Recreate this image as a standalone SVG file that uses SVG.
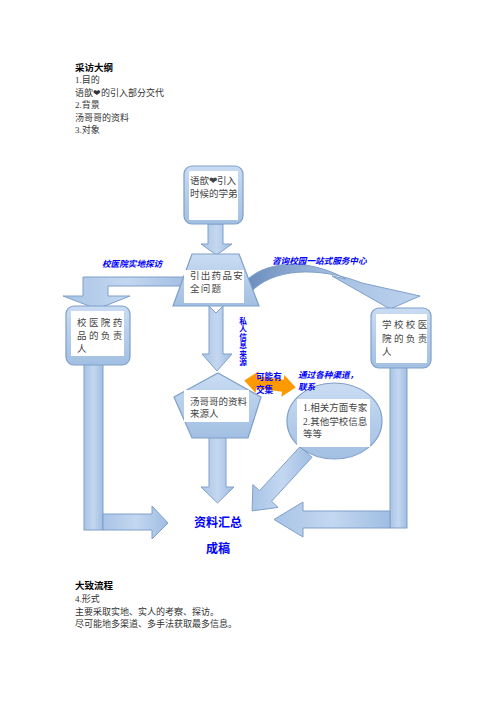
<svg xmlns="http://www.w3.org/2000/svg" width="496" height="702" viewBox="0 0 496 702">
<style>
.t{font-family:"Liberation Serif","Noto Sans CJK SC",serif;font-size:9px;fill:#333}
.h{font-family:"Liberation Serif","Noto Sans CJK SC",serif;font-size:9.5px;font-weight:bold;fill:#000}
.nt{font-family:"Liberation Serif","Noto Sans CJK SC",serif;font-size:9.5px;fill:#444}
.sp{letter-spacing:2.4px}
.lb{font-family:"Liberation Serif","Noto Sans CJK SC",serif;font-size:8.6px;font-weight:bold;font-style:italic;fill:#0000ff}
.lbv{font-family:"Liberation Serif","Noto Sans CJK SC",serif;font-size:8.6px;font-weight:bold;fill:#0000ff}
.vert{font-family:"Liberation Serif","Noto Sans CJK SC",serif;font-size:7.6px;font-weight:bold;fill:#0000ff}
.big{font-family:"Liberation Serif","Noto Sans CJK SC",serif;font-size:12px;font-weight:bold;fill:#0000ff}
.arr{fill:url(#ga);stroke:#7f9fca;stroke-width:1}
.frame{fill:url(#gb);stroke:#7f9fca;stroke-width:1.2}
.inner{fill:#fff}
</style>
<defs>
<linearGradient id="ga" x1="0" y1="0" x2="1" y2="0">
<stop offset="0" stop-color="#a9c4e6"/>
<stop offset="0.5" stop-color="#c3d7f0"/>
<stop offset="1" stop-color="#a0bde2"/>
</linearGradient>
<linearGradient id="gb" x1="0" y1="0" x2="0" y2="1">
<stop offset="0" stop-color="#c9dcf2"/>
<stop offset="1" stop-color="#a2bfe2"/>
</linearGradient>
<linearGradient id="gc" x1="0" y1="0" x2="1" y2="0">
<stop offset="0" stop-color="#6a8cbc"/>
<stop offset="0.55" stop-color="#a9c3e4"/>
<stop offset="1" stop-color="#bcd2ee"/>
</linearGradient>
</defs>

<g id="header-text">
<text class="h" x="75" y="70.5">采访大纲</text>
<text class="t" x="75" y="83">1.目的</text>
<text class="t" x="75" y="95.5">语歆❤的引入部分交代</text>
<text class="t" x="75" y="108">2.背景</text>
<text class="t" x="75" y="120.5">汤哥哥的资料</text>
<text class="t" x="75" y="133">3.对象</text>
</g>

<g id="connectors">
<path class="arr" d="M208,224 H223 V244 H232 L216.5,255 L201,244 H208 Z"/>
<path class="arr" d="M190,277 H83 V296 H63 L97,309 L130,296 H108 V286 H190 Z"/>
<path d="M244,283 C262,262 305,256 346,279 L332,276 L390,309 L420,296 L362,283 C318,266 272,268 250,293 Z" fill="url(#gc)" stroke="#7f9fca" stroke-width="1"/>
<path class="arr" d="M209,306 L216,313 L223,306 V354 H232 L217,371 L202,354 H209 Z"/>
<path class="arr" d="M209,436 H226 V487 H234 L217.5,503 L201,487 H209 Z"/>
<path class="arr" d="M300,446.7 L312,457.3 L271.5,501.3 L278.1,507.4 L252.1,510.9 L252.9,484.6 L259.5,490.7 Z"/>
<rect class="arr" x="84" y="362" width="19" height="168"/>
<path class="arr" d="M103,514 H152 V506 L168,523 L152,539 V530 H103 Z"/>
<rect class="arr" x="390" y="365" width="17" height="163"/>
<path class="arr" d="M390,511 H303 V502 L274,519.5 L303,537 V528 H390 Z"/>
<path fill="#ff9900" transform="rotate(8 270 384)" d="M244,384 L257,373 V378 H283 V373 L296,384 L283,395 V390 H257 V395 Z"/>
</g>

<g id="node-top">
<rect class="frame" x="184" y="166" width="59" height="58" rx="8"/>
<rect class="inner" x="189" y="171" width="49" height="49"/>
<text class="nt" x="190" y="184">语歆❤引入</text>
<text class="nt" x="190" y="197">时候的学弟</text>
</g>

<g id="node-safety">
<polygon class="frame" points="192,254 239,254 259,306 173,306"/>
<rect class="inner" x="184" y="270" width="60" height="33"/>
<text class="nt" x="190" y="279" style="letter-spacing:1.3px">引出药品安</text>
<text class="nt" x="190" y="292" style="letter-spacing:1.3px">全问题</text>
</g>

<g id="node-left">
<rect class="frame" x="66" y="306" width="64" height="59" rx="8"/>
<rect class="inner" x="71" y="311" width="53" height="45"/>
<text class="nt sp" x="77" y="326">校医院药</text>
<text class="nt sp" x="77" y="339">品的负责</text>
<text class="nt sp" x="77" y="352">人</text>
</g>

<g id="node-right">
<rect class="frame" x="371" y="308" width="60" height="60" rx="8"/>
<rect class="inner" x="376" y="314" width="51" height="49"/>
<text class="nt sp" x="382" y="328">学校校医</text>
<text class="nt sp" x="382" y="342">院的负责</text>
<text class="nt sp" x="382" y="355">人</text>
</g>

<g id="node-source">
<polygon class="frame" points="218,373 261,397 248,438 192,438 174,397"/>
<rect class="inner" x="184" y="390" width="65" height="32"/>
<text class="nt" x="190" y="405">汤哥哥的资料</text>
<text class="nt" x="190" y="417">来源人</text>
</g>

<g id="node-experts">
<ellipse class="frame" cx="334.5" cy="421" rx="47.5" ry="38"/>
<rect class="inner" x="297" y="399" width="73" height="48"/>
<text class="nt" x="303" y="411">1.相关方面专家</text>
<text class="nt" x="303" y="425">2.其他学校信息</text>
<text class="nt" x="303" y="437">等等</text>
</g>

<g id="node-summary">
<text class="big" x="218" y="527" text-anchor="middle">资料汇总</text>
<text class="big" x="218" y="553" text-anchor="middle">成稿</text>
</g>

<g id="labels">
<text class="lb" x="102" y="267">校医院实地探访</text>
<text class="lb" x="272" y="264">咨询校园一站式服务中心</text>
<text class="vert" text-anchor="middle"><tspan x="243" y="323.5">私</tspan><tspan x="243" y="331.8">人</tspan><tspan x="243" y="340.1">信</tspan><tspan x="243" y="348.4">息</tspan><tspan x="243" y="356.7">来</tspan><tspan x="243" y="365">源</tspan></text>
<text class="lbv" x="256" y="380">可能有</text>
<text class="lbv" x="256" y="393">交集</text>
<text class="lb" x="298" y="378">通过各种渠道，</text>
<text class="lb" x="298" y="390">联系</text>
</g>

<g id="footer-text">
<text class="h" x="75" y="589">大致流程</text>
<text class="t" x="75" y="602">4.形式</text>
<text class="t" x="75" y="614.5">主要采取实地、实人的考察、探访。</text>
<text class="t" x="75" y="627">尽可能地多渠道、多手法获取最多信息。</text>
</g>
</svg>
